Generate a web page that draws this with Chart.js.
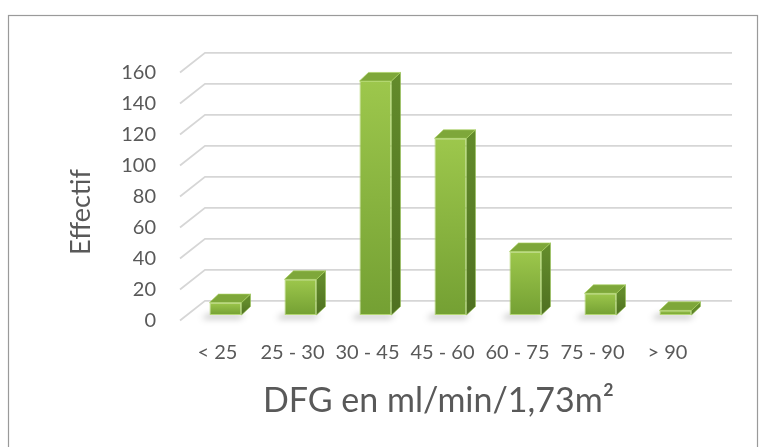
<!DOCTYPE html>
<html>
<head>
<meta charset="utf-8">
<script src="https://cdn.jsdelivr.net/npm/chart.js@4.4.1/dist/chart.umd.min.js"></script>
<style>
  html, body { margin: 0; padding: 0; background: #ffffff; }
  #wrap { width: 766px; height: 447px; position: relative; }
  canvas { display: block; }
</style>
</head>
<body>
<div id="wrap"><canvas id="chart" width="766" height="447"></canvas></div>
<script>
// Répartition des patients par classe de DFG
const categories = ['< 25', '25 - 30', '30 - 45', '45 - 60', '60 - 75', '75 - 90', '> 90'];
const effectifs  = [8, 23, 151, 114, 41, 14, 3];
const yTicks     = [0, 20, 40, 60, 80, 100, 120, 140, 160];
const xTitle     = 'DFG en ml/min/1,73m²';
const yTitle     = 'Effectif';

// pseudo-3D geometry (pixels)
const WALL  = { dx: 25, dy: -19.7 };  // front edge -> back wall
const SHIFT = { dx: 8,  dy: -5.5 };   // bars sit a little behind the front edge
const DEPTH = { dx: 9,  dy: -8.5 };   // bar thickness
const TEXT  = '#595959';
const FONT  = "Lato, 'Open Sans', sans-serif";

const depthPlugin = {
  id: 'depth3d',
  beforeDatasetsDraw(chart) {
    const { ctx, chartArea: { left, right }, scales: { y } } = chart;
    // back wall grid + floor/wall diagonals
    ctx.save();
    ctx.strokeStyle = '#d6d6d6';
    ctx.lineWidth = 1.8;
    y.ticks.forEach(t => {
      const py = y.getPixelForValue(t.value);
      ctx.beginPath();
      ctx.moveTo(left, py);
      ctx.lineTo(left + WALL.dx, py + WALL.dy);
      ctx.lineTo(right + WALL.dx + 2, py + WALL.dy);
      ctx.stroke();
    });
    ctx.restore();

    // soft shadows on the floor
    const meta = chart.getDatasetMeta(0);
    ctx.save();
    ctx.filter = 'blur(3px)';
    ctx.fillStyle = 'rgba(0,0,0,0.22)';
    meta.data.forEach(bar => {
      const { x, base, width } = bar.getProps(['x', 'base', 'width'], true);
      const xl = x - width / 2 + SHIFT.dx, b = base + SHIFT.dy;
      ctx.beginPath();
      ctx.moveTo(xl - 8, b + 4);
      ctx.lineTo(xl + width - 2, b + 4);
      ctx.lineTo(xl + width + 4, b - 1);
      ctx.lineTo(xl - 2, b - 1);
      ctx.closePath();
      ctx.fill();
    });
    ctx.restore();

    ctx.save();
    ctx.translate(SHIFT.dx, SHIFT.dy);
  },
  afterDatasetsDraw(chart) {
    const { ctx } = chart;
    const meta = chart.getDatasetMeta(0);
    meta.data.forEach(bar => {
      const { x, y, base, width } = bar.getProps(['x', 'y', 'base', 'width'], true);
      const xl = x - width / 2, xr = x + width / 2;
      // side face
      const sg = ctx.createLinearGradient(0, y, 0, base);
      sg.addColorStop(0, '#628a2b');
      sg.addColorStop(1, '#4f7021');
      ctx.beginPath();
      ctx.moveTo(xr, y);
      ctx.lineTo(xr + DEPTH.dx, y + DEPTH.dy);
      ctx.lineTo(xr + DEPTH.dx, base + DEPTH.dy);
      ctx.lineTo(xr, base);
      ctx.closePath();
      ctx.fillStyle = sg;
      ctx.fill();
      ctx.strokeStyle = 'rgba(150,195,80,0.7)';
      ctx.lineWidth = 0.8;
      ctx.stroke();
      // top face
      ctx.beginPath();
      ctx.moveTo(xl, y);
      ctx.lineTo(xr, y);
      ctx.lineTo(xr + DEPTH.dx, y + DEPTH.dy);
      ctx.lineTo(xl + DEPTH.dx, y + DEPTH.dy);
      ctx.closePath();
      ctx.fillStyle = '#7ea73a';
      ctx.fill();
      ctx.strokeStyle = 'rgba(170,210,95,0.8)';
      ctx.stroke();
    });
    ctx.restore();
  },
  afterDraw(chart) {
    const { ctx, chartArea: { left, right, bottom } } = chart;
    ctx.save();
    ctx.fillStyle = TEXT;
    ctx.textBaseline = 'alphabetic';
    ctx.textAlign = 'center';
    // x axis title
    ctx.font = '34px ' + FONT;
    ctx.fillText(xTitle, (left + right) / 2 - 4, bottom + 91);
    // y axis title
    ctx.font = '27px ' + FONT;
    ctx.translate(90, 212);
    ctx.rotate(-Math.PI / 2);
    ctx.fillText(yTitle, 0, 0);
    ctx.restore();
    // chart frame
    ctx.save();
    ctx.strokeStyle = '#9a9a9a';
    ctx.lineWidth = 1.2;
    ctx.strokeRect(8.5, 15.5, 749, 470);
    ctx.restore();
  }
};

function frontGradient(context) {
  const chart = context.chart;
  const y = chart.scales && chart.scales.y;
  if (!chart.chartArea || !y) return '#8ab73f';
  const top = y.getPixelForValue(context.raw);
  const base = y.getPixelForValue(0);
  const g = chart.ctx.createLinearGradient(0, top, 0, base + 0.01);
  g.addColorStop(0, '#9dc74c');
  g.addColorStop(1, '#74a033');
  return g;
}

new Chart(document.getElementById('chart'), {
  type: 'bar',
  data: {
    labels: categories,
    datasets: [{
      data: effectifs,
      backgroundColor: frontGradient,
      borderColor: 'rgba(170,210,95,0.85)',
      borderWidth: 1,
      borderSkipped: false,
      categoryPercentage: 1,
      barPercentage: 0.427
    }]
  },
  options: {
    responsive: false,
    animation: false,
    devicePixelRatio: 1,
    layout: { padding: { left: 120, right: 61, top: 72.5, bottom: 66.5 } },
    plugins: { legend: { display: false }, tooltip: { enabled: false } },
    scales: {
      x: {
        grid: { display: false },
        border: { display: false },
        ticks: { color: TEXT, font: { family: FONT, size: 20 }, padding: 12, maxRotation: 0, autoSkip: false },
        afterFit(scale) { scale.height = 60; }
      },
      y: {
        min: 0,
        max: 160,
        grid: { display: false },
        border: { display: false },
        ticks: { color: TEXT, font: { family: FONT, size: 20 }, padding: 16 },
        afterBuildTicks(scale) { scale.ticks = yTicks.map(v => ({ value: v })); },
        afterFit(scale) { scale.width = 60; }
      }
    }
  },
  plugins: [depthPlugin]
});
</script>
</body>
</html>
